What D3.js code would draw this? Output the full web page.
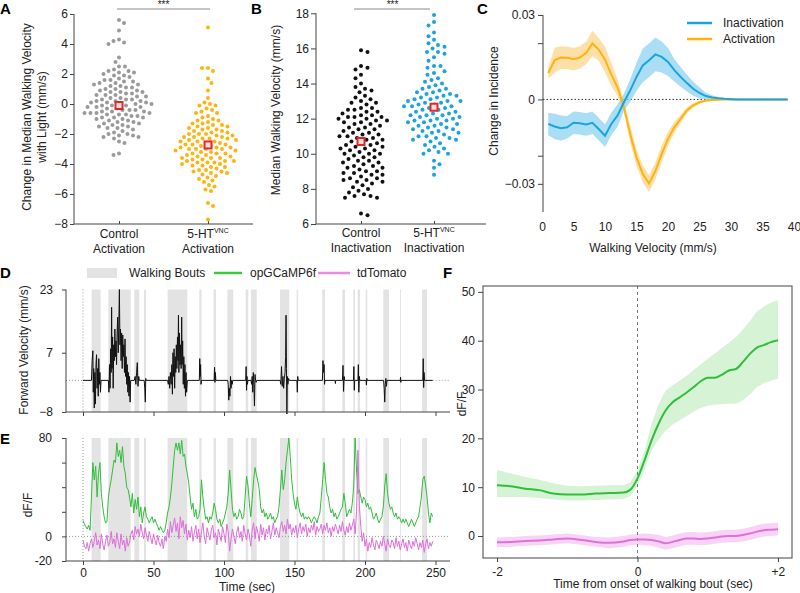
<!DOCTYPE html>
<html><head><meta charset="utf-8">
<script src="https://cdn.jsdelivr.net/npm/d3@7"></script>
<style>body{margin:0;background:#fff} svg{display:block} text{font-family:"Liberation Sans",Arial,Helvetica,sans-serif;}</style>
</head><body><svg id="c" width="800" height="593"></svg>
<script>
// ---------------- DATA ----------------
// Panel A (change in median walking velocity, mm/s)
const aControl = [5.6,5.4,4.9,4.3,4.2,4.1,4.0,3.1,2.8,2.5,2.5,2.3,2.2,2.2,2.1,2.1,2.0,1.9,1.9,1.8,1.7,1.6,1.6,1.5,1.5,1.4,1.4,1.3,1.3,1.2,1.2,1.1,1.1,1.0,1.0,0.9,0.9,0.8,0.8,0.8,0.7,0.7,0.6,0.6,0.6,0.5,0.5,0.4,0.4,0.3,0.3,0.3,0.2,0.2,0.2,0.1,0.1,0.1,0.0,0.0,0.0,-0.1,-0.1,-0.1,-0.2,-0.2,-0.2,-0.3,-0.3,-0.4,-0.4,-0.4,-0.5,-0.5,-0.5,-0.6,-0.6,-0.6,-0.6,-0.7,-0.7,-0.7,-0.8,-0.8,-0.9,-0.9,-0.9,-1.0,-1.0,-1.1,-1.1,-1.2,-1.2,-1.3,-1.3,-1.4,-1.4,-1.5,-1.5,-1.6,-1.6,-1.7,-1.8,-1.9,-2.0,-2.0,-2.1,-2.1,-2.2,-2.2,-2.3,-2.5,-2.6,-3.3,-3.4];
const aActivation = [5.1,2.4,2.4,2.2,1.7,1.4,0.9,0.4,0.1,0.0,-0.1,-0.1,-0.3,-0.4,-0.5,-0.6,-0.6,-0.8,-0.9,-1.0,-1.1,-1.1,-1.2,-1.3,-1.3,-1.4,-1.4,-1.5,-1.5,-1.6,-1.6,-1.7,-1.7,-1.8,-1.8,-1.9,-1.9,-2.0,-2.0,-2.0,-2.1,-2.1,-2.2,-2.2,-2.2,-2.3,-2.3,-2.3,-2.4,-2.4,-2.5,-2.5,-2.5,-2.6,-2.6,-2.7,-2.7,-2.7,-2.8,-2.8,-2.9,-2.9,-2.9,-3.0,-3.0,-3.0,-3.0,-3.1,-3.1,-3.2,-3.2,-3.3,-3.3,-3.3,-3.4,-3.4,-3.5,-3.5,-3.6,-3.6,-3.6,-3.7,-3.7,-3.8,-3.8,-3.8,-3.9,-3.9,-3.9,-4.0,-4.0,-4.1,-4.1,-4.2,-4.2,-4.3,-4.4,-4.4,-4.5,-4.5,-4.6,-4.6,-4.7,-4.8,-4.9,-5.0,-5.1,-5.2,-5.4,-5.5,-5.7,-5.8,-6.6,-6.8,-7.7];
const aMedians = [-0.1, -2.73];
const aCategories = ["Control", "5-HT"];
// Panel B (median walking velocity, mm/s)
const bControl = [15.9,15.8,15.0,14.9,14.8,14.5,14.3,14.0,13.8,13.7,13.6,13.5,13.3,13.2,13.1,13.0,12.9,12.9,12.8,12.6,12.6,12.5,12.5,12.4,12.4,12.3,12.2,12.2,12.1,12.1,12.1,12.0,12.0,11.9,11.9,11.8,11.8,11.7,11.7,11.6,11.5,11.5,11.4,11.4,11.3,11.2,11.2,11.1,11.1,11.0,11.0,10.9,10.9,10.8,10.8,10.7,10.6,10.6,10.5,10.5,10.4,10.4,10.3,10.3,10.2,10.2,10.1,10.0,10.0,10.0,9.9,9.8,9.8,9.7,9.6,9.6,9.5,9.5,9.4,9.3,9.3,9.2,9.2,9.1,9.0,9.0,8.9,8.9,8.8,8.8,8.7,8.6,8.6,8.5,8.5,8.4,8.4,8.3,8.2,8.1,8.0,7.9,7.8,7.7,7.6,7.6,7.5,7.5,6.6,6.5];
const bInactivation = [17.9,17.5,17.3,16.9,16.7,16.5,16.3,16.2,16.1,16.0,15.8,15.8,15.7,15.5,15.3,15.0,15.0,14.9,14.7,14.6,14.5,14.3,14.2,14.1,14.0,13.9,13.8,13.7,13.7,13.6,13.5,13.5,13.4,13.4,13.3,13.3,13.2,13.2,13.1,13.1,13.0,13.0,13.0,12.9,12.9,12.8,12.8,12.7,12.7,12.7,12.6,12.6,12.5,12.5,12.4,12.4,12.3,12.3,12.2,12.2,12.2,12.1,12.1,12.0,12.0,11.9,11.9,11.9,11.8,11.8,11.7,11.7,11.6,11.6,11.5,11.5,11.4,11.4,11.3,11.3,11.2,11.2,11.1,11.0,11.0,10.9,10.9,10.8,10.8,10.7,10.6,10.5,10.4,10.3,10.2,10.1,10.0,10.0,9.6,9.4,9.2,8.8];
const bMedians = [10.7, 12.65];
// Panel C (change in incidence vs walking velocity)
const cVelocity = d3.range(1, 40);
const activationMean = [0.0094,0.0139,0.0149,0.0148,0.0143,0.0149,0.0165,0.0199,0.0177,0.0142,0.0089,0.0042,-0.0027,-0.0123,-0.0206,-0.0265,-0.0299,-0.0254,-0.0194,-0.0140,-0.0099,-0.0069,-0.0039,-0.0021,-0.0010,-0.0004,-0.0002,-0.0001,0,0,0,0,0,0,0,0,0,0,0];
const activationErr = [0.002,0.0045,0.004,0.004,0.004,0.004,0.004,0.0045,0.004,0.0045,0.004,0.003,0.002,0.003,0.003,0.003,0.003,0.003,0.003,0.0025,0.002,0.0015,0.001,0.0008,0.0005,0.0003,0.0002,0.0001,0.0001,0.0001,0.0001,0.0001,0.0001,0.0001,0.0001,0.0001,0.0001,0.0001,0.0001];
const inactivationMean = [-0.0087,-0.0096,-0.0102,-0.0099,-0.0083,-0.0085,-0.0089,-0.0083,-0.0105,-0.0129,-0.0087,-0.0057,-0.0010,0.0032,0.0080,0.0121,0.0139,0.0160,0.0151,0.0133,0.0104,0.0080,0.0058,0.0038,0.0023,0.0012,0.0007,0.0004,0.0002,0.0001,0,0,0,0,0,0,0,0,0];
const inactivationErr = [0.004,0.0045,0.0045,0.004,0.004,0.004,0.004,0.004,0.004,0.004,0.004,0.004,0.003,0.004,0.005,0.006,0.006,0.006,0.0055,0.005,0.004,0.0035,0.003,0.0025,0.002,0.0012,0.0008,0.0005,0.0003,0.0002,0.0001,0.0001,0.0001,0.0001,0.0001,0.0001,0.0001,0.0001,0.0001];
const cYTicks = [0.03, 0.02, 0, -0.02, -0.03];
const cYLabels = [0.03, 0, -0.03];
const cXTicks = [0,5,10,15,20,25,30,35,40];
// Panel D / E time series
const walkingBouts = [[6.1,12.5],[18,33.8],[36.4,39.9],[43.3,44.7],[60,74],[82.5,84.1],[92.6,94.3],[102.4,106.6],[115.4,117.2],[119.1,123.2],[139.7,146.3],[151.5,152.6],[169.7,171.6],[183.9,185.8],[191.7,192.9],[194.8,196.5],[200.5,201.6],[213,217],[224.8,225.5],[240.5,244]];
const velocityTrace = [[0,0],[6,0],[6.5,5],[7,7.5],[7.3,-3],[7.6,3],[8,-7],[8.4,2],[8.8,-6],[9.2,4],[9.6,6.5],[10,-2],[10.4,3],[10.8,-4],[11.2,5.5],[11.6,-1],[12,2],[12.4,-3],[12.8,0],
[18,0],[18.4,-3],[18.8,4],[19.2,-2],[19.6,8],[20,2],[20.3,18.5],[20.6,3],[21,11],[21.4,-2],[21.8,9],[22.2,5],[22.6,13],[23,6],[23.4,10],[23.8,4],[24.2,12],[24.6,16],[25,7],[25.4,14],[25.8,23],[26.2,9],[26.6,13],[27,5],[27.4,12],[27.8,3],[28.2,11.5],[28.6,6],[29,9],[29.4,2],[29.8,10.5],[30.2,1],[30.6,6],[31,-1],[31.4,4],[31.8,-3],[32.2,2],[32.6,-4],[33,1],[33.4,-5.5],[33.8,0],
[36.4,0],[37,1],[37.5,-1],[38,2],[38.5,4.5],[39,-1.5],[39.5,1],[40,0],[43.4,0],[43.8,-2],[44.2,-5.5],[44.5,0.5],[44.8,0],
[60,0],[60.5,-1],[61,1],[61.5,-2],[62,2],[62.5,-1],[63,4],[63.4,-3.5],[63.8,7],[64.2,1],[64.6,8],[65,-2],[65.4,6],[65.8,2],[66.2,9],[66.6,3],[67,11],[67.4,5],[67.7,16.5],[68,2],[68.4,12],[68.8,4],[69.2,9],[69.6,3],[70,16],[70.3,4],[70.7,10],[71.1,-1],[71.5,6],[71.9,-2],[72.3,4],[72.7,-4],[73.1,2],[73.5,-3],[74,0],
[82.5,0],[82.8,5.5],[83.1,1],[83.4,4],[83.7,-1],[84,0],[93,0],[93.3,3.3],[93.6,-0.5],[93.9,2],[94.2,0],
[102.6,0],[103,-1],[103.4,-5],[103.8,-2],[104.2,-4],[104.6,1],[105,-2],[105.4,0],[105.8,-1],[106.2,0],
[115.4,0],[115.7,3.5],[116,-2.5],[116.3,1],[116.6,-1],[117,0],
[119.2,0],[119.6,-1],[120,1],[120.4,-3],[120.8,2],[121.2,-1],[121.6,-6.5],[122,1.5],[122.4,0],[122.8,-0.5],[123.2,0],
[139.8,0],[140.3,-1],[140.8,3.5],[141.3,-1.5],[141.8,1],[142.3,-2],[142.8,0.5],[143.3,2],[143.7,6],[144,16.5],[144.3,3],[144.6,-8.5],[144.9,1],[145.3,-1],[145.8,0.5],[146.3,0],
[151.7,0],[152,-3],[152.3,1],[152.6,0],[169.8,0],[170.2,5],[170.6,2],[171,4],[171.3,-1],[171.6,0],[178.8,0],[179,-0.8],[179.2,0],
[184,0],[184.4,3.8],[184.8,-2.8],[185.2,1],[185.6,0],[191.8,0],[192.1,3.5],[192.4,-2.5],[192.7,0],[195,0],[195.3,4],[195.6,-3],[196,1],[196.3,0],
[200.8,0],[201,-1.2],[201.3,0.5],[201.5,0],[213.2,0],[213.6,-2],[214,-5.5],[214.4,-1],[214.8,0.5],[215.2,-1.5],[215.6,0],[225,0],[225.2,0.8],[225.4,-0.5],[225.6,0],
[241,0],[241.3,5.5],[241.6,-1.8],[241.9,2],[242.2,0],[248,0]];
const velTicks = [-8, 7, 23];
const timeTicks = [0,50,100,150,200,250];
// dF/F traces sampled every 1 s from t = 0
const gcampTrace = [13,10,8,6,9,5,32,60,46,57,32,51,60,35,24,16,11,12,32,40,46,54,62,60,76,65,70,60,73,57,51,40,38,32,24,35,19,30,22,32,16,24,11,19,24,16,14,11,14,16,11,14,11,8,5,8,5,3,5,11,19,24,32,43,57,70,76,70,76,67,78,65,67,57,51,43,32,22,27,16,22,14,16,22,46,32,22,14,16,11,16,14,19,27,22,14,11,14,8,11,14,19,24,35,54,38,22,16,19,14,16,22,19,14,16,32,49,41,27,16,30,46,56,50,45,38,24,19,22,16,19,14,16,19,14,16,11,14,16,24,38,54,38,46,60,70,80,65,46,35,27,22,32,24,19,16,19,14,16,14,16,14,11,14,16,14,11,16,19,32,46,60,46,35,32,24,19,22,16,19,14,16,19,22,24,35,27,16,19,22,19,27,41,80,54,35,38,32,27,32,30,24,27,22,24,19,14,16,19,14,11,14,16,24,41,51,35,27,22,24,19,16,19,14,16,14,11,14,11,14,11,8,11,14,11,8,11,14,16,24,32,46,49,41,32,19,11,19,16];
const tdTomatoTrace = [-3,-8,-10,-5,-12,-6,-2,-9,-4,3,-7,-3,-10,2,-6,-11,-4,1,-8,-5,4,-6,-2,-9,3,-4,-10,2,-7,-3,-12,-1,-8,-5,2,5,-3,8,2,6,0,10,3,-2,7,1,-4,4,-1,-6,2,-3,-7,1,-5,-8,-2,-10,0,-4,6,-1,12,3,9,15,4,11,-2,16,7,13,2,10,-3,5,-1,8,-4,3,9,-2,6,-5,4,11,0,-6,7,2,-3,5,9,-1,3,-7,6,1,-4,8,2,-5,10,4,-12,-2,6,0,-6,3,8,-1,4,-4,9,2,-3,6,1,-8,5,11,-2,8,3,-4,10,1,7,-3,6,2,9,-2,4,11,1,7,3,-1,8,12,4,9,2,14,6,10,1,7,3,9,-1,6,11,2,8,4,10,0,7,3,9,5,12,1,8,4,6,10,2,9,5,11,3,7,0,8,4,10,6,2,9,4,12,5,1,8,3,11,5,9,14,2,20,70,25,8,-4,3,-8,-2,-12,-5,-9,-1,-7,-11,-3,-6,-10,-4,-8,0,-6,-12,-2,-7,-9,-3,-5,-10,-1,-8,-4,-11,-6,-2,-9,-5,-12,-3,-7,-10,-4,-8,-1,-6,-11,-5,-9,-3,-13,-6,-2,-10,-5,-8,-4];
const eYTicks = [-20,0,20,40,60,80];
const eYLabels = [-20,0,80];
// Panel F (bout-triggered average)
const fTime = [-2,-1.8,-1.6,-1.4,-1.2,-1.0,-0.8,-0.6,-0.4,-0.2,-0.1,0,0.1,0.2,0.3,0.4,0.5,0.6,0.7,0.8,0.9,1.0,1.1,1.2,1.3,1.4,1.5,1.6,1.7,1.8,1.9,2.0];
const fGcampMean = [10.4,10.2,9.7,9.4,8.7,8.5,8.5,8.7,8.8,8.9,9.5,11.8,15.5,19.6,23,25.7,27.4,28.4,29.4,30.5,31.7,32.4,32.4,33,33.9,34.2,35.6,37.3,38.6,39.1,39.7,40.1];
const fGcampUpper = [13.5,12.8,12.1,11.5,10.8,10.3,10.2,10.3,10.4,10.4,11.0,13.5,17.5,23,27,29.8,30.9,31.8,32.8,34,35.2,36.3,37.4,38.5,39.6,40.7,42.3,44,46,47,47.8,48.3];
const fGcampLower = [8.0,8.0,8.0,7.8,7.5,7.3,7.3,7.4,7.5,7.6,8.2,10.4,13.5,17.5,19.8,21.6,22.8,23.7,24.6,25.5,26.2,26.7,26.9,27,27.1,27.1,27.8,29,30.5,31.3,31.8,32.2];
const fTomatoMean = [-1.3,-1.2,-1.0,-0.9,-0.7,-0.5,-0.8,-1.2,-1.4,-1.1,-0.8,-0.7,-0.7,-0.8,-1.1,-1.5,-1.2,-0.8,-0.5,-0.5,-0.6,-0.5,-0.3,-0.1,0,0,0.2,0.5,0.9,1.2,1.3,1.4];
const fTomatoErr = [1.0,1.0,1.0,1.0,1.0,1.0,1.0,1.0,1.1,1.1,1.1,1.1,1.2,1.2,1.3,1.3,1.3,1.3,1.3,1.3,1.3,1.3,1.3,1.3,1.3,1.3,1.3,1.3,1.3,1.3,1.3,1.3];
const fYTicks = [0,10,20,30,40,50];
const fXTicks = [-2,0,2];

// ---------------- STYLE ----------------
const C = {axis:"#444", text:"#222", gray:"#9a9a9a", orange:"#FFB30F", blue:"#1BA3DD", red:"#E3262B",
  green:"#2FBF3A", pink:"#DD70DA", bout:"#e3e3e3"};
const svg = d3.select("#c");
const FS = "12px";

function styleAxis(g) {
  g.select(".domain").remove();
  g.selectAll(".tick line").attr("stroke", C.axis);
  g.selectAll(".tick text").attr("fill", C.text).style("font-size", FS).attr("font-family", null);
}
function vline(x, y1, y2, opts={}) {
  return svg.append("line").attr("x1",x).attr("x2",x).attr("y1",y1).attr("y2",y2)
    .attr("stroke", opts.stroke||C.axis).attr("stroke-width", opts.w||1).attr("stroke-dasharray", opts.dash||null);
}
function hline(y, x1, x2, opts={}) {
  return svg.append("line").attr("x1",x1).attr("x2",x2).attr("y1",y).attr("y2",y)
    .attr("stroke", opts.stroke||C.axis).attr("stroke-width", opts.w||1).attr("stroke-dasharray", opts.dash||null);
}
function label(x, y, txt, opts={}) {
  const t = svg.append("text").attr("x",x).attr("y",y).text(txt).attr("fill", opts.fill||C.text)
    .style("font-size", opts.size||FS).attr("text-anchor", opts.anchor||"middle");
  if (opts.bold) t.style("font-weight","bold");
  return t;
}
function vlabel(x, y, txt) {
  return svg.append("text").attr("transform",`translate(${x},${y}) rotate(-90)`).attr("text-anchor","middle")
    .attr("fill",C.text).style("font-size",FS).text(txt);
}
function swarm(vals, yS, cx, d) {
  const pts = vals.map(v => ({v, y: yS(v)})).sort((a,b)=>a.y-b.y);
  const placed = [];
  pts.forEach((p,i) => {
    const near = placed.filter(q => Math.abs(q.y-p.y) < d);
    let off = 0;
    const s = i % 2 ? 1 : -1;
    for (let k=0;k<400;k++){
      const cand = k===0 ? 0 : s*(k%2?1:-1)*Math.ceil(k/2)*0.5;
      if (near.every(q => (q.x-cand)**2 + (q.y-p.y)**2 >= d*d)) { off = cand; break; }
    }
    p.x = cx + off; placed.push({x:off, y:p.y});
  });
  return pts;
}
function panelLetter(x, y, l) { label(x, y, l, {anchor:"start", size:"15px", bold:true, fill:"#000"}); }

// ---------------- PANEL A ----------------
{
  const x = d3.scalePoint().domain(aCategories).range([119, 208]);
  const y = d3.scaleLinear().domain([-8, 6]).range([224, 14]);
  svg.append("g").attr("transform","translate(74,0)").call(d3.axisLeft(y).tickValues(d3.range(-8,7,2)).tickSize(4).tickPadding(2)).call(styleAxis);
  vline(74, y(6), y(-8)); hline(y(-8), 74, 253);
  svg.append("g").attr("transform",`translate(0,${y(-8)})`).call(d3.axisBottom(x).tickSize(-3).tickFormat("")).call(styleAxis);
  const groups = [[aControl, C.gray], [aActivation, C.orange]];
  groups.forEach(([vals,col],gi) => {
    svg.append("g").selectAll("circle").data(swarm(vals, y, x(aCategories[gi]), 5.7)).join("circle")
      .attr("cx",d=>d.x).attr("cy",d=>d.y).attr("r",2).attr("fill",col);
  });
  svg.append("g").selectAll("rect").data(aMedians).join("rect")
    .attr("x",(d,i)=>x(aCategories[i])-3.5).attr("y",d=>y(d)-3.5).attr("width",7).attr("height",7)
    .attr("fill","#fbe0e0").attr("stroke",C.red).attr("stroke-width",2);
  hline(9, x("Control")-2, x("5-HT")+2, {stroke:"#888"});
  label((x("Control")+x("5-HT"))/2, 8, "***", {size:"10px"});
  label(x("Control"), 238, "Control"); label(x("Control"), 253, "Activation");
  const t = label(x("5-HT"), 238, "5-HT"); t.append("tspan").attr("dy",-5).style("font-size","7px").text("VNC");
  label(x("5-HT"), 253, "Activation");
  vlabel(31, 117, "Change in Median Walking Velocity");
  vlabel(46, 117, "with Light (mm/s)");
  panelLetter(0, 14, "A");
}
// ---------------- PANEL B ----------------
{
  const x = d3.scalePoint().domain(aCategories).range([361, 434]);
  const y = d3.scaleLinear().domain([6, 18]).range([224, 13.3]);
  svg.append("g").attr("transform","translate(316,0)").call(d3.axisLeft(y).tickValues(d3.range(6,19,2)).tickSize(5).tickPadding(2)).call(styleAxis);
  vline(316, y(18), y(6)); hline(y(6), 316, 486);
  svg.append("g").attr("transform",`translate(0,${y(6)})`).call(d3.axisBottom(x).tickSize(-3).tickFormat("")).call(styleAxis);
  const groups = [[bControl, "#111"], [bInactivation, C.blue]];
  groups.forEach(([vals,col],gi) => {
    svg.append("g").selectAll("circle").data(swarm(vals, y, x(aCategories[gi]), 6.5)).join("circle")
      .attr("cx",d=>d.x).attr("cy",d=>d.y).attr("r",2).attr("fill",col);
  });
  svg.append("g").selectAll("rect").data(bMedians).join("rect")
    .attr("x",(d,i)=>x(aCategories[i])-3.5).attr("y",d=>y(d)-3.5).attr("width",7).attr("height",7)
    .attr("fill","#fbe0e0").attr("stroke",C.red).attr("stroke-width",2);
  hline(9, x("Control")-7, x("5-HT")-4, {stroke:"#888"});
  label((x("Control")+x("5-HT"))/2 - 5, 8, "***", {size:"10px"});
  label(x("Control"), 237, "Control"); label(x("Control"), 252, "Inactivation");
  const t = label(x("5-HT"), 237, "5-HT"); t.append("tspan").attr("dy",-5).style("font-size","7px").text("VNC");
  label(x("5-HT"), 252, "Inactivation");
  vlabel(280, 110, "Median Walking Velocity (mm/s)");
  panelLetter(251, 14, "B");
}
// ---------------- PANEL C ----------------
{
  const x = d3.scaleLinear().domain([0, 40]).range([542, 794]);
  const y = d3.scaleLinear().domain([-0.04, 0.03]).range([212, 15]);
  svg.append("g").attr("transform","translate(543,0)")
    .call(d3.axisLeft(y).tickValues(cYTicks).tickSize(5).tickPadding(3).tickFormat(d => cYLabels.includes(d) ? (d===0?"0":d3.format(".2f")(d)) : ""))
    .call(styleAxis);
  vline(543, y(0.03), y(-0.04));
  svg.append("g").attr("transform","translate(0,212)").call(d3.axisBottom(x).tickValues(cXTicks).tickSize(0).tickPadding(10)).call(styleAxis);
  hline(y(0), 543, x(39), {stroke:"#333", dash:"1.5,2"});
  const series = [[activationMean, activationErr, C.orange, "#FCD589"], [inactivationMean, inactivationErr, C.blue, "#8ED3F1"]];
  series.forEach(([m, e, col, band]) => {
    const area = d3.area().x((d,i)=>x(cVelocity[i])).y0((d,i)=>y(m[i]-e[i])).y1((d,i)=>y(m[i]+e[i]));
    svg.append("path").datum(m).attr("d", area).attr("fill", band).attr("fill-opacity", 0.75);
  });
  series.forEach(([m, e, col]) => {
    svg.append("path").datum(m).attr("d", d3.line().x((d,i)=>x(cVelocity[i])).y(d=>y(d)))
      .attr("fill","none").attr("stroke",col).attr("stroke-width",2);
  });
  // legend
  hline(23, 687, 712, {stroke:C.blue, w:2.5}); label(723, 27, "Inactivation", {anchor:"start"});
  hline(39, 687, 712, {stroke:C.orange, w:2.5}); label(723, 43, "Activation", {anchor:"start"});
  label(653, 252, "Walking Velocity (mm/s)");
  vlabel(498, 101, "Change in Incidence");
  panelLetter(477, 14, "C");
}
// ---------------- PANELS D & E ----------------
{
  const x = d3.scaleLinear().domain([0, 250]).range([83, 435.5]);
  const yD = d3.scaleLinear().domain([-8, 23]).range([412, 289.5]);
  const yE = d3.scaleLinear().domain([-20, 80]).range([561, 438]);
  // bouts
  [[yD,23,-8],[yE,80,-20]].forEach(([ys,top,bot]) => {
    svg.append("g").selectAll("rect").data(walkingBouts).join("rect")
      .attr("x",d=>x(d[0])).attr("width",d=>x(d[1])-x(d[0])).attr("y",ys(top)).attr("height",ys(bot)-ys(top))
      .attr("fill",C.bout);
  });
  // D
  vline(x(0), yD(23), yD(-8), {stroke:"#999", dash:"1,2"});
  hline(yD(0), 66, x(0), {stroke:"#999", dash:"1,2"});
  hline(yD(0), x(248), 450, {stroke:"#999", dash:"1,2"});
  svg.append("path").datum(velocityTrace).attr("d", d3.line().x(d=>x(d[0])).y(d=>yD(d[1])))
    .attr("fill","none").attr("stroke","#111").attr("stroke-width",1);
  svg.append("g").attr("transform","translate(66,0)").call(d3.axisLeft(yD).tickValues(velTicks).tickSize(4).tickPadding(9)).call(styleAxis);
  vline(66, yD(23), yD(-8)); hline(yD(-8), 66, 450);
  svg.append("g").attr("transform",`translate(0,${yD(-8)})`).call(d3.axisBottom(x).tickValues(timeTicks).tickSize(4).tickFormat("")).call(styleAxis);
  vlabel(28, 350, "Forward Velocity (mm/s)");
  // E
  vline(x(0), yE(80), yE(-20), {stroke:"#999", dash:"1,2"});
  hline(yE(0), 66, 450, {stroke:"#999", dash:"1,2"});
  const lineE = d3.line().x((d,i)=>x(i)).y(d=>yE(d));
  svg.append("path").datum(gcampTrace).attr("d", lineE).attr("fill","none").attr("stroke",C.green).attr("stroke-width",1);
  svg.append("path").datum(tdTomatoTrace).attr("d", lineE).attr("fill","none").attr("stroke",C.pink).attr("stroke-width",1);
  svg.append("g").attr("transform","translate(66,0)").call(d3.axisLeft(yE).tickValues(eYTicks).tickSize(4).tickPadding(10).tickFormat(d=>eYLabels.includes(d)?d:"")).call(styleAxis);
  vline(66, yE(80), yE(-20)); hline(yE(-20), 66, 450);
  svg.append("g").attr("transform",`translate(0,${yE(-20)})`).call(d3.axisBottom(x).tickValues(timeTicks).tickSize(4).tickPadding(3)).call(styleAxis);
  label(247, 591, "Time (sec)");
  vlabel(32, 505, "dF/F");
  // legend
  svg.append("rect").attr("x",87).attr("y",268).attr("width",30).attr("height",10).attr("fill",C.bout);
  label(129, 277, "Walking Bouts", {anchor:"start"});
  hline(273, 214, 242, {stroke:"#3CC93C", w:2.5}); label(250, 277, "opGCaMP6f", {anchor:"start"});
  hline(273, 318, 350, {stroke:"#E88AE6", w:2.5}); label(357, 277, "tdTomato", {anchor:"start"});
  panelLetter(0, 278, "D");
  panelLetter(0, 444, "E");
}
// ---------------- PANEL F ----------------
{
  const x = d3.scaleLinear().domain([-2.2, 2.2]).range([483, 792]);
  const y = d3.scaleLinear().domain([-4.5, 51.2]).range([558, 286]);
  const areaG = d3.area().x((d,i)=>x(fTime[i])).y0((d,i)=>y(fGcampLower[i])).y1((d,i)=>y(fGcampUpper[i]));
  svg.append("path").datum(fTime).attr("d", areaG).attr("fill","#d6f3d5");
  const areaP = d3.area().x((d,i)=>x(fTime[i])).y0((d,i)=>y(fTomatoMean[i]-fTomatoErr[i])).y1((d,i)=>y(fTomatoMean[i]+fTomatoErr[i]));
  svg.append("path").datum(fTime).attr("d", areaP).attr("fill","#f8d3f5");
  vline(x(0), 286, 558, {stroke:"#777", dash:"3,3"});
  const lineF = d3.line().x((d,i)=>x(fTime[i])).y(d=>y(d)).curve(d3.curveMonotoneX);
  svg.append("path").datum(fGcampMean).attr("d", lineF).attr("fill","none").attr("stroke",C.green).attr("stroke-width",2);
  svg.append("path").datum(fTomatoMean).attr("d", lineF).attr("fill","none").attr("stroke",C.pink).attr("stroke-width",2);
  svg.append("rect").attr("x",483).attr("y",286).attr("width",792-483).attr("height",558-286).attr("fill","none").attr("stroke",C.axis);
  svg.append("g").attr("transform","translate(483,0)").call(d3.axisLeft(y).tickValues(fYTicks).tickSize(5).tickPadding(3)).call(styleAxis);
  svg.append("g").attr("transform","translate(0,558)").call(d3.axisBottom(x).tickValues(fXTicks).tickSize(4).tickPadding(5).tickFormat(d=>d>0?"+"+d:d)).call(styleAxis);
  label(653, 588, "Time from onset of walking bout (sec)");
  vlabel(466, 404, "dF/F");
  panelLetter(443, 278, "F");
}
</script></body></html>
